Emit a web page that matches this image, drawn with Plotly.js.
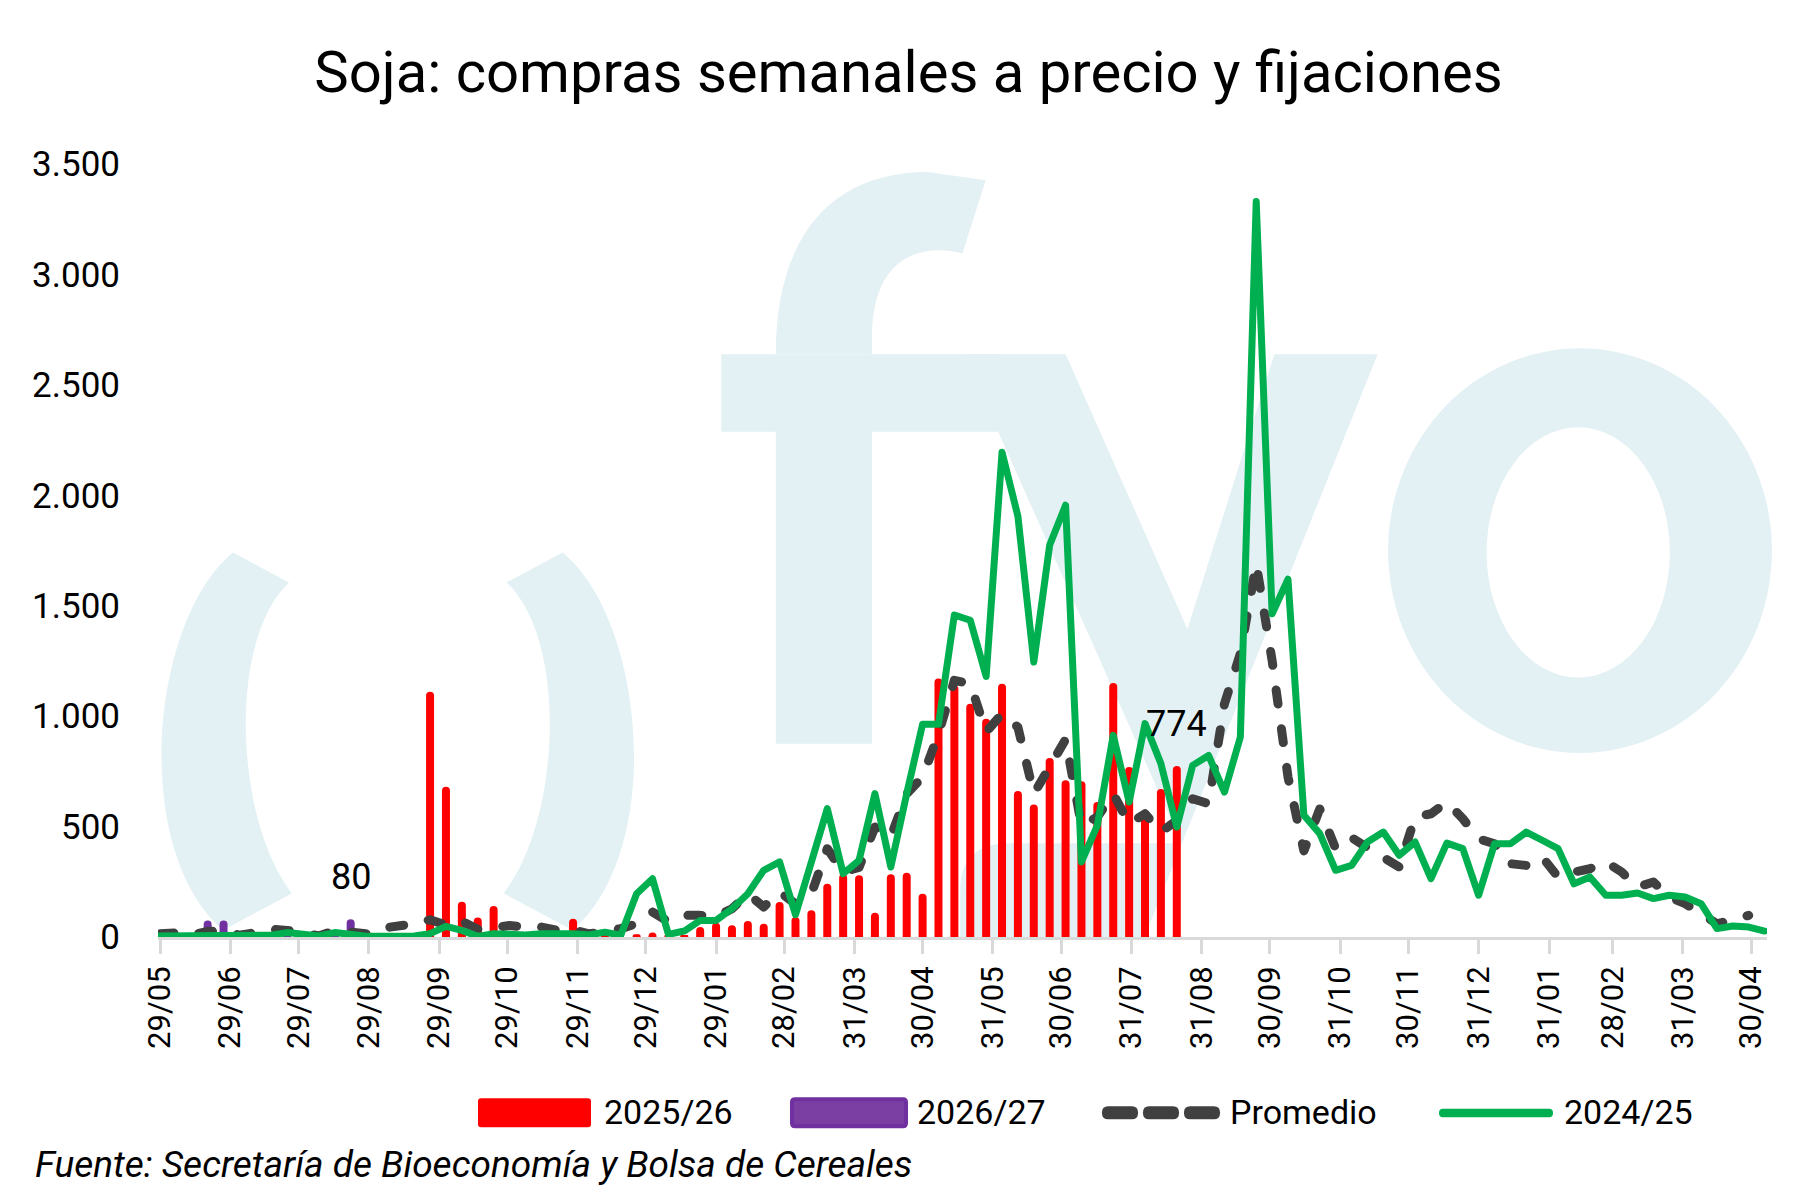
<!DOCTYPE html>
<html>
<head>
<meta charset="utf-8">
<script src="https://cdn.plot.ly/plotly-3.0.1.min.js"></script>
<style>
  html, body { margin: 0; padding: 0; background: #ffffff; }
  #chart { width: 1817px; height: 1194px; outline: 2px solid #a3a3a3; outline-offset: -2px; }
  .js-line { stroke-linecap: round; stroke-linejoin: round; }
</style>
</head>
<body>
<div id="chart"></div>
<script>
// semanas desde 29/05/2024 (miércoles)
const firstWeek = '2024-05-29';
const nWeeks = 102;

const tickDates = [
    '2024-05-29', '2024-06-29', '2024-07-29', '2024-08-29', '2024-09-29', '2024-10-29',
    '2024-11-29', '2024-12-29', '2025-01-29', '2025-02-28', '2025-03-31', '2025-04-30',
    '2025-05-31', '2025-06-30', '2025-07-31', '2025-08-31', '2025-09-30', '2025-10-31',
    '2025-11-30', '2025-12-31', '2026-01-31', '2026-02-28', '2026-03-31', '2026-04-30'
];

const seriesNames = ['2025/26', '2026/27', 'Promedio', '2024/25'];

// miles de toneladas por semana
const compras2526 = [
    0, 0, 0, 0, 0, 0, 0, 0, 0, 0, 0, 0, 0, 30, 0, 0, 0,
    1110, 680, 160, 88, 140, 5, 0, 5, 25, 83, 25, 5, 0, 12, 20, 5, 8,
    45, 65, 53, 72, 60, 158, 90, 121, 241, 285, 280, 110, 284, 291, 196,
    1170, 1140, 1056, 988, 1147, 661, 600, 810, 710, 705, 611, 1150, 770, 566, 670, 774
];

const compras2627 = [0, 0, 0, 75, 75, 0, 0, 0, 8, 0, 0, 8, 80];

const promedio = [
    15, 18, 10, 25, 27, 8, 20, 35, 30, 22,
    5, 30, 22, 15, 40, 45, 60, 78, 55, 72,
    35, 42, 52, 45, 45, 30, 33, 14, 22, 38,
    60, 113, 70, 98, 98, 92, 128, 196, 136, 204,
    150, 196, 400, 295, 315, 498, 453, 649, 724, 920,
    1162, 1147, 928, 1011, 950, 649, 770, 895, 505, 543,
    649, 513, 558, 475, 528, 626, 604, 1056, 1283, 1690,
    1252, 724, 390, 580, 400, 450, 404, 362, 317, 543,
    558, 611, 536, 445, 422, 332, 324, 362, 272, 294,
    309, 340, 294, 226, 249, 181, 151, 106, 60, 78,
    98
];

const compras2425 = [
    5, 5, 3, 3, 3, 3, 5, 8, 20, 15,
    5, 20, 8, 3, 3, 3, 5, 15, 48, 30,
    3, 15, 12, 9, 15, 18, 15, 9, 22, 8,
    196, 264, 12, 27, 75, 75, 128, 196, 302, 340,
    101, 340, 581, 287, 347, 649, 317, 649, 963, 963,
    1458, 1434, 1180, 2195, 1905, 1245, 1775, 1955, 340, 505,
    913, 611, 966, 785, 498, 777, 822, 656, 905, 3330,
    1464, 1620, 551, 468, 302, 324, 430, 475, 370, 430,
    264, 425, 400, 189, 422, 422, 475, 438, 400, 241,
    272, 189, 189, 199, 174, 189, 181, 151, 38, 50,
    45, 27
];

const DAY = 86400000;
const t0 = Date.parse(firstWeek + 'T00:00:00Z');
const fmtDate = (ms) => new Date(ms).toISOString().replace('T', ' ').slice(0, 19);
const weeks = [];
for (let i = 0; i < nWeeks; i++) weeks.push(fmtDate(t0 + i * 7 * DAY).slice(0, 10));

// geometría del área de gráfico (px)
const W = 1817, H = 1194;
const L = 158, R = 1767, T = 163.5, B = 936.7;
const pxPerDay = (1751 - 160) / 701;
const xStart = fmtDate(t0 - (160 - L) / pxPerDay * DAY);
const xEnd = fmtDate(t0 + (R - 160) / pxPerDay * DAY);
const barWidth = 8 / pxPerDay * DAY;

const px = (X) => (X - L) / (R - L);
const py = (Y) => (B - Y) / (B - T);

// construye un path en coordenadas paper a partir de pares en px
const toPath = (tokens) => {
    const out = [];
    let pair = [];
    tokens.forEach((t) => {
        if (typeof t === 'string') { out.push(t); return; }
        pair.push(t);
        if (pair.length === 2) {
            out.push(px(pair[0]).toFixed(5) + ',' + py(pair[1]).toFixed(5));
            pair = [];
        }
    });
    return out.join(' ');
};

const roundRect = (x0, y0, x1, y1, r) => toPath([
    'M', x0 + r, y0, 'L', x1 - r, y0, 'Q', x1, y0, x1, y0 + r,
    'L', x1, y1 - r, 'Q', x1, y1, x1 - r, y1, 'L', x0 + r, y1,
    'Q', x0, y1, x0, y1 - r, 'L', x0, y0 + r, 'Q', x0, y0, x0 + r, y0, 'Z'
]);

const wmColor = '#e3f1f5';
const wmShape = (path) => ({
    type: 'path', xref: 'paper', yref: 'paper', layer: 'below',
    path: path, fillcolor: wmColor, line: {width: 0},
});

const shapes = [
    // marca de agua "( ) fyo"
    wmShape(toPath(['M', 233, 552, 'C', 150, 620, 130, 850, 223, 930, 'L', 292, 893,
        'C', 235, 820, 227, 640, 289, 582, 'Z'])),
    wmShape(toPath(['M', 562.6, 552, 'C', 645.6, 620, 665.6, 850, 572.6, 930, 'L', 503.6, 893,
        'C', 560.6, 820, 568.6, 640, 506.6, 582, 'Z'])),
    wmShape(toPath(['M', 721.3, 353.7, 'L', 999.6, 353.7, 'L', 999.6, 431.4, 'L', 872, 431.4,
        'L', 872, 743.3, 'L', 775.8, 743.3, 'L', 775.8, 431.4, 'L', 721.3, 431.4, 'Z'])),
    wmShape(toPath(['M', 775.8, 353.7, 'C', 775.8, 231.9, 834.9, 171.6, 927.7, 171.6,
        'L', 985.7, 179.7, 'L', 962.5, 252.8, 'C', 916.1, 241.2, 872, 260.9, 872, 336.3,
        'L', 872, 353.7, 'Z'])),
    wmShape(toPath(['M', 963.6, 353.7, 'L', 1065.7, 353.7, 'L', 1187.4, 628.5, 'L', 1274.4, 353.7,
        'L', 1377.6, 353.7, 'L', 1144.5, 936.7, 'L', 960.1, 936.7, 'L', 960.1, 890.6,
        'Q', 960.1, 843, 1008.9, 843, 'L', 1181.6, 843, 'Z'])),
    {type: 'circle', xref: 'paper', yref: 'paper', layer: 'below',
        x0: px(1388.1), x1: px(1771.9), y0: py(752.6), y1: py(347.8),
        fillcolor: wmColor, line: {width: 0}},
    {type: 'circle', xref: 'paper', yref: 'paper', layer: 'below',
        x0: px(1486.6), x1: px(1669.8), y0: py(677.2), y1: py(426.8),
        fillcolor: '#ffffff', line: {width: 0}},

    // leyenda
    {type: 'path', xref: 'paper', yref: 'paper', path: roundRect(478, 1098, 591, 1127, 3),
        fillcolor: '#ff0000', line: {width: 0}},
    {type: 'path', xref: 'paper', yref: 'paper', path: roundRect(792, 1099, 906, 1126, 3),
        fillcolor: '#7b3fa3', line: {color: '#7030a0', width: 4}},
    {type: 'path', xref: 'paper', yref: 'paper', path: roundRect(1102, 1106, 1138, 1119, 6),
        fillcolor: '#404040', line: {width: 0}},
    {type: 'path', xref: 'paper', yref: 'paper', path: roundRect(1143, 1106, 1179, 1119, 6),
        fillcolor: '#404040', line: {width: 0}},
    {type: 'path', xref: 'paper', yref: 'paper', path: roundRect(1184, 1106, 1220, 1119, 6),
        fillcolor: '#404040', line: {width: 0}},
    {type: 'path', xref: 'paper', yref: 'paper', path: roundRect(1439, 1108.5, 1553, 1117, 4),
        fillcolor: '#00b050', line: {width: 0}},
];

const font = 'Roboto, "Noto Sans", "DejaVu Sans", sans-serif';

const legendText = (X, text) => ({
    xref: 'paper', yref: 'paper', x: px(X), y: py(1112), xanchor: 'left', yanchor: 'middle',
    text: text, showarrow: false, font: {family: font, size: 34, color: '#000000'},
});

// etiqueta del último valor de cada serie de barras
const lastLabel = (vals) => {
    let idx = -1;
    vals.forEach((v, i) => { if (v > 0) idx = i; });
    return {
        x: weeks[idx], y: vals[idx], xref: 'x', yref: 'y', text: String(vals[idx]),
        showarrow: false, yanchor: 'middle', yshift: 42,
        font: {family: font, size: 36, color: '#000000'},
    };
};

const annotations = [
    lastLabel(compras2627),
    lastLabel(compras2526),
    legendText(602, seriesNames[0]),
    legendText(915, seriesNames[1]),
    legendText(1228, seriesNames[2]),
    legendText(1562, seriesNames[3]),
    {xref: 'paper', yref: 'paper', x: px(33), y: py(1164), xanchor: 'left', yanchor: 'middle',
        text: '<i>Fuente: Secretaría de Bioeconomía y Bolsa de Cereales</i>', showarrow: false,
        font: {family: font, size: 37, color: '#000000'}},
];

const bars2526 = {
    x: weeks.slice(0, compras2526.length),
    y: compras2526,
    name: seriesNames[0],
    type: 'bar',
    width: barWidth,
    marker: {color: '#ff0000', cornerradius: 4, line: {width: 0}},
    hoverinfo: 'x+y',
};

const bars2627 = {
    x: weeks.slice(0, compras2627.length),
    y: compras2627,
    name: seriesNames[1],
    type: 'bar',
    width: barWidth,
    marker: {color: '#7030a0', cornerradius: 4, line: {width: 0}},
    hoverinfo: 'x+y',
};

const linePromedio = {
    x: weeks.slice(0, promedio.length),
    y: promedio,
    name: seriesNames[2],
    type: 'scatter',
    mode: 'lines',
    line: {color: '#404040', width: 9, dash: '14px,25px'},
    cliponaxis: false,
};

const line2425 = {
    x: weeks.slice(0, compras2425.length),
    y: compras2425,
    name: seriesNames[3],
    type: 'scatter',
    mode: 'lines',
    line: {color: '#00b050', width: 7},
    cliponaxis: false,
};

const data = [bars2526, bars2627, linePromedio, line2425];

const layout = {
    width: W,
    height: H,
    showlegend: false,
    barmode: 'overlay',
    separators: ',.',
    paper_bgcolor: '#ffffff',
    plot_bgcolor: 'rgba(0,0,0,0)',
    font: {family: font, size: 34, color: '#000000'},
    title: {
        text: 'Soja: compras semanales a precio y fijaciones',
        x: 0.5, xref: 'container', xanchor: 'center',
        y: 1 - 72 / H, yref: 'container', yanchor: 'middle',
        font: {family: font, size: 58, color: '#000000'},
    },
    margin: {l: L, r: W - R, t: T, b: H - B, pad: 0},
    xaxis: {
        type: 'date',
        range: [xStart, xEnd],
        tickvals: tickDates,
        tickformat: '%d/%m',
        tickangle: -90,
        ticks: 'outside',
        ticklen: 14,
        tickwidth: 3,
        tickcolor: '#d9d9d9',
        showline: true,
        linecolor: '#d9d9d9',
        linewidth: 3,
        showgrid: false,
        zeroline: false,
        tickfont: {family: font, size: 31, color: '#000000'},
    },
    yaxis: {
        range: [0, 3500],
        tick0: 0,
        dtick: 500,
        tickformat: ',d',
        showgrid: false,
        zeroline: false,
        showline: false,
        ticks: '',
        ticklabelstandoff: 37,
        tickfont: {family: font, size: 35, color: '#000000'},
    },
    shapes: shapes,
    annotations: annotations,
};

Plotly.newPlot('chart', data, layout, {displayModeBar: false, responsive: false});
</script>
</body>
</html>
